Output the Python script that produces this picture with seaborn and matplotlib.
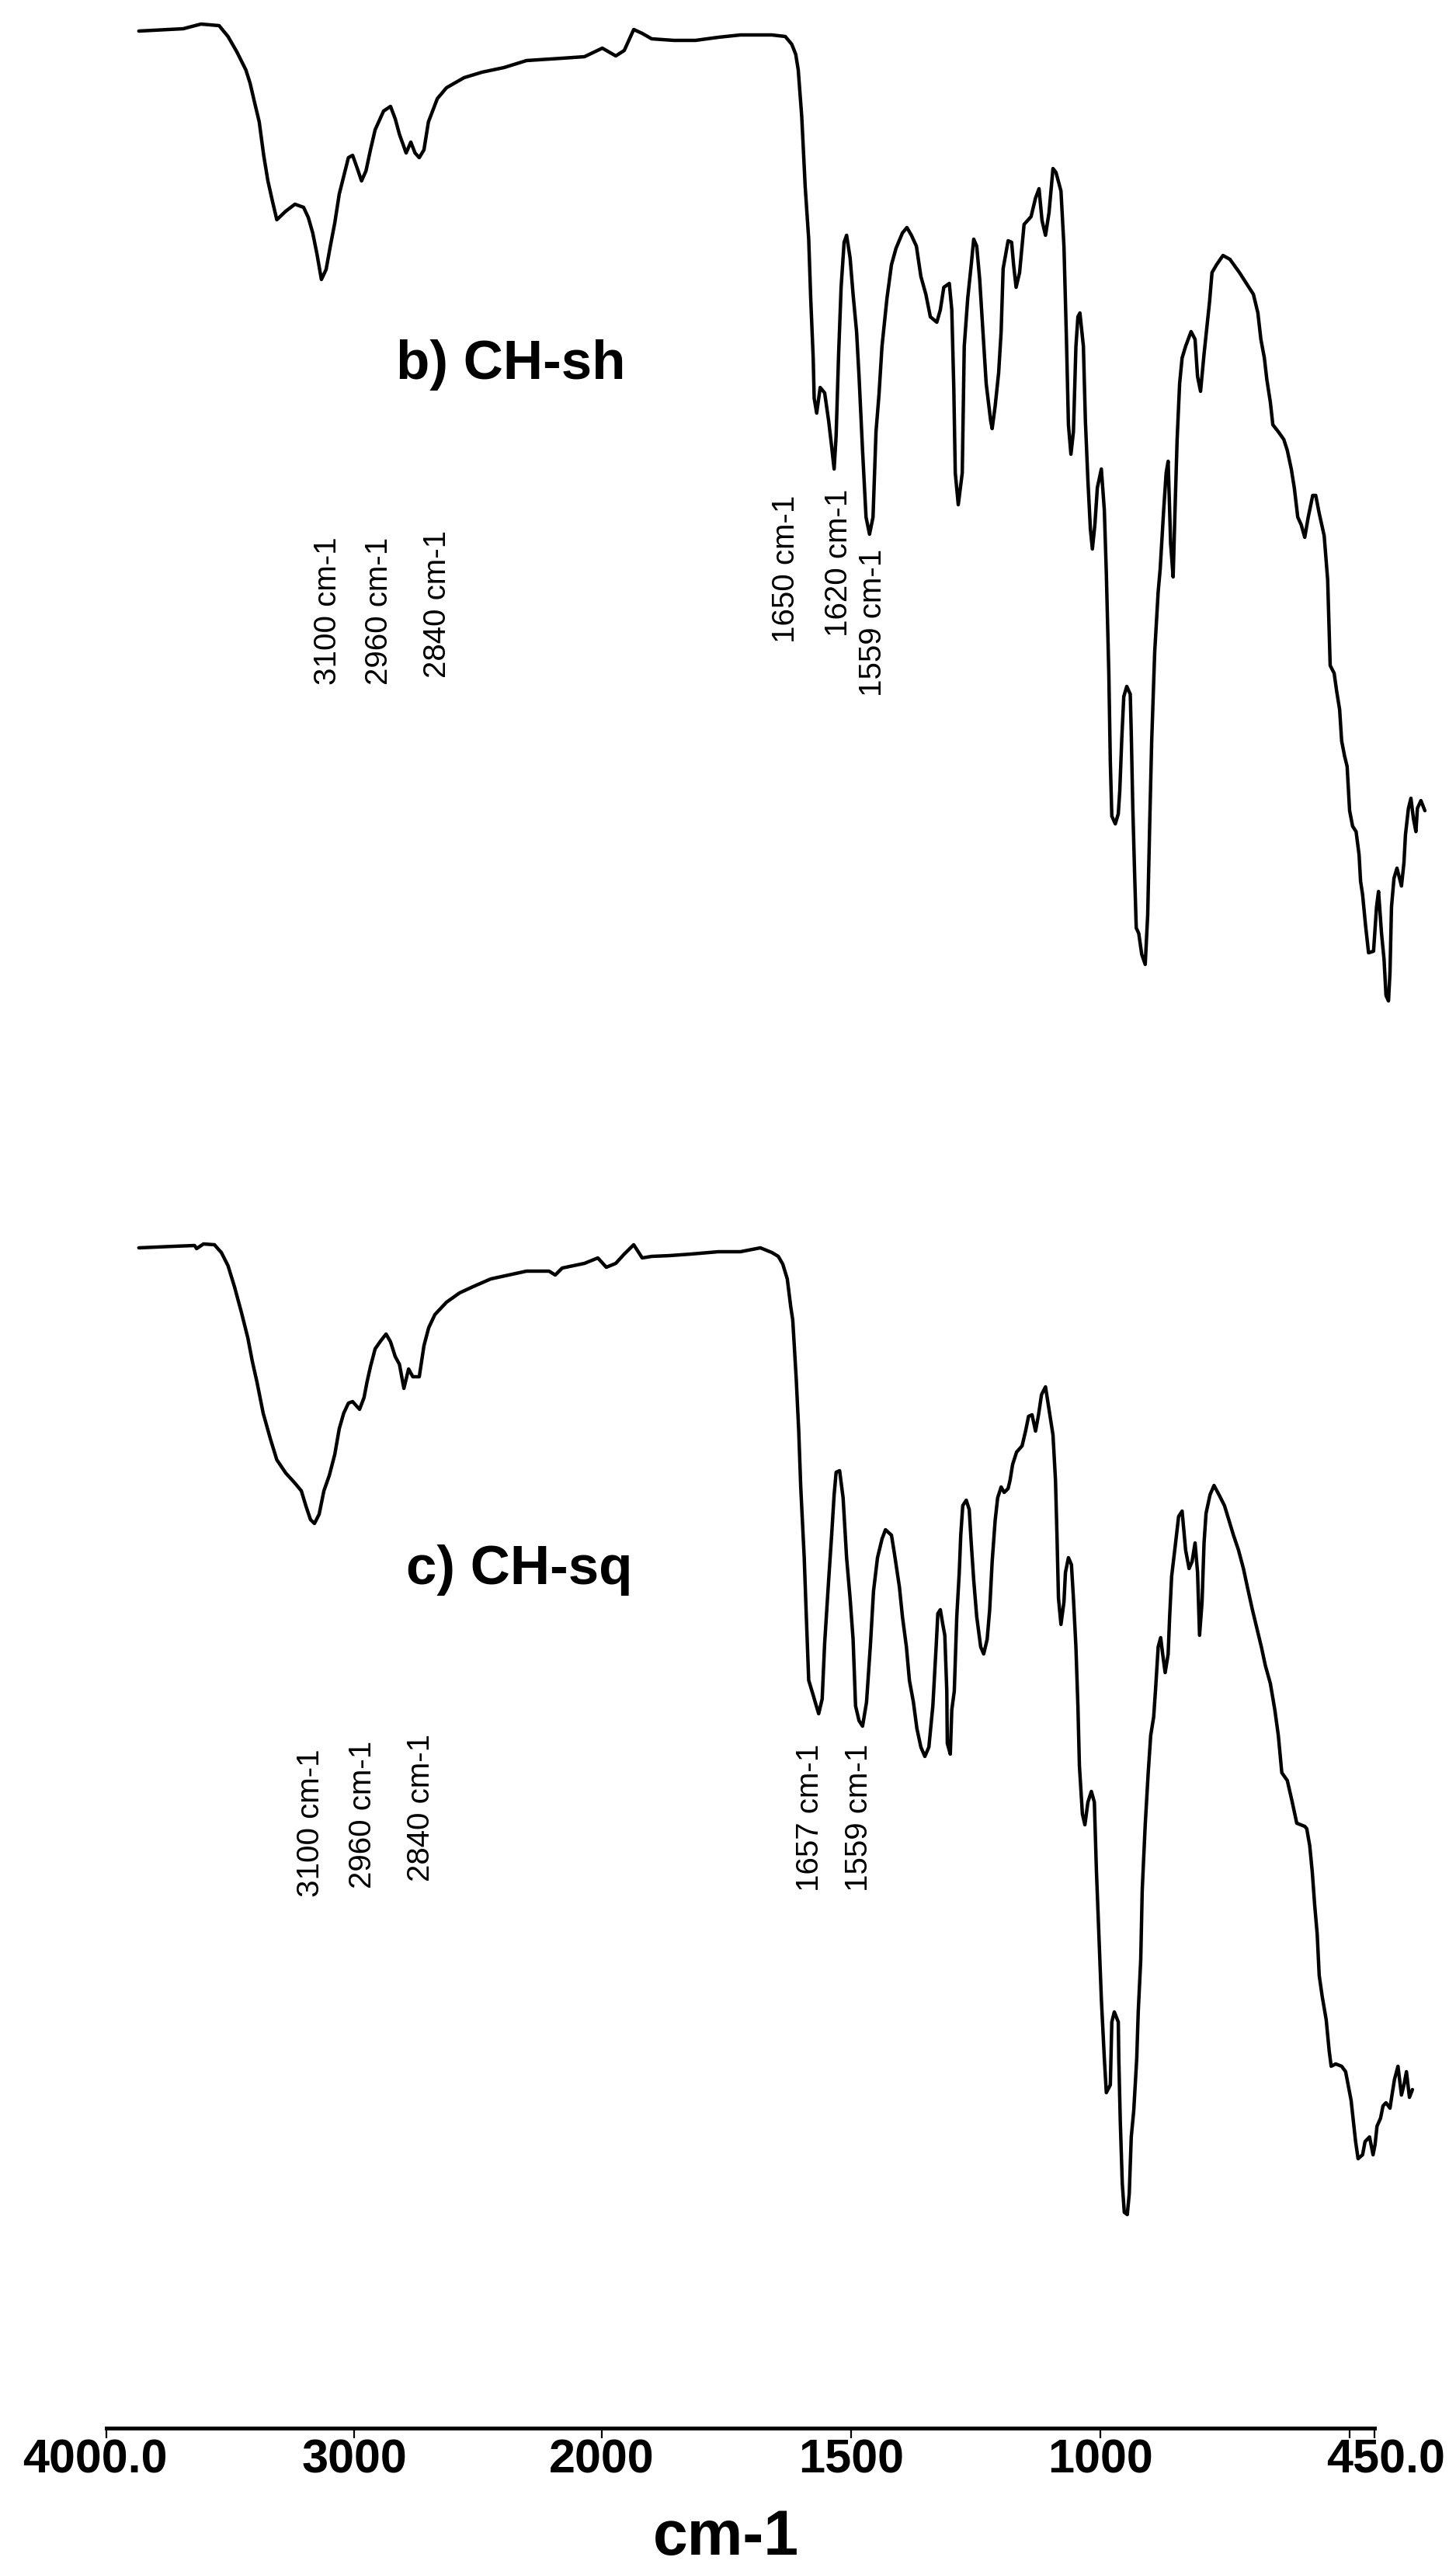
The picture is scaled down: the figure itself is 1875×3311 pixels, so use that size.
import numpy as np
import pandas as pd
import matplotlib
matplotlib.use("Agg")
import matplotlib.pyplot as plt
import matplotlib.transforms as mtransforms
import seaborn as sns

# ---------------- data ----------------
wn_b = [3869, 3690, 3618, 3582, 3545, 3509, 3473, 3437, 3420, 3401,
        3383, 3365, 3348, 3329, 3312, 3276, 3239, 3204, 3185, 3167,
        3150, 3132, 3113, 3096, 3078, 3060, 3042, 3023, 3006, 2987,
        2970, 2952, 2934, 2915, 2881, 2853, 2834, 2817, 2790, 2771,
        2754, 2737, 2718, 2700, 2664, 2627, 2556, 2484, 2395, 2304,
        2160, 2070, 1999, 1972, 1955, 1936, 1919, 1900, 1856, 1812,
        1766, 1722, 1659, 1632, 1619, 1611, 1606, 1599, 1592, 1585,
        1581, 1576, 1574, 1569, 1562, 1553, 1545, 1539, 1534, 1530,
        1525, 1520, 1514, 1509, 1502, 1496, 1489, 1484, 1477, 1470,
        1463, 1456, 1450, 1444, 1438, 1428, 1419, 1410, 1397, 1388,
        1379, 1369, 1360, 1350, 1341, 1328, 1321, 1314, 1303, 1298,
        1294, 1291, 1285, 1277, 1273, 1266, 1259, 1254, 1248, 1242,
        1236, 1229, 1220, 1217, 1211, 1204, 1199, 1195, 1185, 1178,
        1174, 1169, 1162, 1153, 1139, 1130, 1123, 1117, 1110, 1103,
        1095, 1089, 1079, 1073, 1068, 1064, 1059, 1054, 1049, 1045,
        1041, 1034, 1030, 1025, 1020, 1016, 1011, 1006, 998, 992,
        988, 983, 980, 977, 970, 964, 961, 957, 953, 947,
        940, 938, 935, 931, 928, 923, 917, 910, 905, 901,
        897, 891, 884, 880, 873, 868, 864, 859, 854, 850,
        846, 841, 836, 829, 818, 810, 805, 799, 792, 785,
        781, 776, 767, 754, 740, 721, 707, 693, 684, 678,
        671, 666, 659, 654, 643, 632, 625, 617, 611, 604,
        597, 590, 583, 574, 568, 561, 551, 544, 539, 531,
        526, 520, 516, 510, 505, 500, 494, 487, 481, 478,
        474, 468, 462, 452, 446, 442, 436, 431, 427, 422,
        419, 416, 411, 405, 396, 391, 388, 382, 377, 372,
        367, 364, 357, 349]
t_b = [308.7, 309.0, 309.6, 309.5, 309.4, 308.0, 306.0, 303.7, 302.0, 299.4,
       297.0, 292.7, 289.4, 286.7, 284.4, 285.5, 286.4, 286.0, 284.7, 282.7,
       280.0, 276.7, 278.0, 281.0, 284.0, 287.7, 290.0, 292.4, 292.7, 291.0,
       289.4, 290.7, 293.4, 296.0, 298.4, 299.0, 297.4, 295.4, 293.0, 294.4,
       293.0, 292.4, 293.4, 297.0, 300.0, 301.4, 302.7, 303.4, 304.0, 304.9,
       305.2, 305.4, 306.5, 305.5, 306.2, 308.9, 308.4, 307.7, 307.5, 307.5,
       307.9, 308.2, 308.2, 308.0, 307.0, 305.7, 303.7, 297.7, 288.6, 281.9,
       274.3, 266.6, 261.4, 259.5, 262.8, 262.1, 258.5, 255.2, 252.3, 256.6,
       267.1, 275.7, 281.5, 282.4, 279.5, 274.8, 270.0, 264.2, 254.7, 246.1,
       243.9, 246.1, 257.1, 261.9, 268.1, 274.3, 278.6, 280.7, 282.7, 283.4,
       282.4, 281.0, 277.1, 274.8, 271.9, 271.2, 272.8, 275.7, 276.2, 272.8,
       262.8, 251.8, 247.7, 251.8, 268.1, 274.3, 278.6, 281.9, 281.0, 276.7,
       270.5, 263.3, 258.5, 257.5, 260.4, 264.7, 270.0, 278.1, 281.7, 281.5,
       278.6, 275.7, 277.6, 283.8, 284.8, 287.2, 288.4, 284.3, 282.4, 285.3,
       291.0, 290.5, 288.1, 281.0, 269.0, 258.0, 254.2, 257.1, 268.1, 271.9,
       272.4, 268.1, 258.5, 250.9, 244.6, 242.0, 245.1, 249.9, 252.3, 247.0,
       238.9, 226.0, 214.6, 207.6, 206.6, 207.9, 210.9, 217.6, 223.0, 224.3,
       223.3, 218.3, 208.9, 199.6, 193.2, 192.5, 189.8, 188.5, 194.9, 206.6,
       217.3, 228.7, 236.5, 239.4, 247.0, 251.8, 253.3, 242.7, 238.4, 247.5,
       256.1, 263.3, 266.6, 268.1, 270.0, 269.0, 264.2, 262.3, 267.1, 271.4,
       273.8, 277.6, 278.6, 279.8, 279.3, 277.6, 276.2, 274.8, 272.4, 269.0,
       266.6, 263.8, 260.9, 258.0, 257.1, 256.1, 254.7, 252.3, 249.9, 246.1,
       245.1, 243.5, 246.1, 248.9, 248.9, 246.6, 243.7, 238.0, 227.0, 226.0,
       223.7, 221.3, 217.3, 215.3, 214.0, 208.3, 206.3, 205.6, 202.6, 199.2,
       197.5, 193.5, 190.0, 190.2, 195.9, 197.9, 192.5, 189.2, 184.5, 183.8,
       187.5, 195.9, 199.6, 200.9, 198.6, 201.6, 205.2, 208.6, 209.9, 207.3,
       205.6, 208.6, 209.6, 208.3]

wn_c = [3869, 3725, 3644, 3636, 3608, 3564, 3536, 3509, 3483, 3455,
        3429, 3411, 3392, 3367, 3338, 3312, 3276, 3239, 3213, 3194,
        3176, 3160, 3141, 3122, 3100, 3078, 3060, 3042, 3023, 3006,
        2978, 2960, 2948, 2934, 2915, 2893, 2871, 2853, 2834, 2817,
        2799, 2780, 2763, 2737, 2718, 2699, 2674, 2627, 2574, 2520,
        2448, 2376, 2304, 2213, 2188, 2160, 2070, 2016, 1991, 1972,
        1955, 1936, 1919, 1900, 1864, 1821, 1766, 1722, 1682, 1659,
        1646, 1637, 1628, 1621, 1617, 1610, 1605, 1601, 1594, 1590,
        1585, 1576, 1572, 1565, 1558, 1553, 1545, 1539, 1534, 1530,
        1523, 1516, 1509, 1502, 1496, 1491, 1484, 1477, 1469, 1461,
        1455, 1447, 1438, 1431, 1419, 1413, 1403, 1397, 1389, 1383,
        1375, 1368, 1360, 1352, 1344, 1336, 1329, 1326, 1321, 1316,
        1312, 1308, 1307, 1301, 1298, 1293, 1288, 1283, 1280, 1276,
        1269, 1263, 1259, 1254, 1248, 1240, 1234, 1227, 1222, 1217,
        1211, 1206, 1199, 1193, 1185, 1181, 1176, 1168, 1157, 1150,
        1144, 1137, 1130, 1124, 1118, 1110, 1103, 1095, 1090, 1087,
        1084, 1079, 1073, 1070, 1064, 1058, 1054, 1049, 1045, 1042,
        1036, 1031, 1025, 1018, 1012, 1008, 1003, 998, 992, 988,
        980, 977, 972, 964, 963, 960, 956, 952, 946, 942,
        938, 933, 927, 924, 919, 916, 910, 904, 899, 893,
        889, 884, 879, 875, 870, 864, 861, 857, 850, 843,
        836, 829, 822, 816, 810, 805, 801, 796, 792, 788,
        780, 772, 762, 751, 742, 733, 723, 713, 705, 695,
        686, 677, 669, 659, 650, 643, 636, 625, 615, 606,
        590, 586, 580, 575, 570, 565, 561, 555, 547, 541,
        537, 528, 516, 508, 502, 497, 492, 488, 483, 474,
        469, 460, 453, 449, 445, 438, 433, 427, 419, 415,
        410, 403, 396, 391, 386, 380, 374]
t_c = [152.0, 152.2, 152.3, 151.9, 152.5, 152.4, 151.4, 149.7, 147.0, 143.7,
       140.4, 137.4, 134.7, 130.7, 127.4, 124.7, 123.0, 121.7, 120.7, 118.7,
       117.0, 116.5, 117.7, 120.7, 122.7, 125.4, 128.7, 130.7, 132.0, 132.2,
       131.2, 132.7, 134.7, 136.7, 139.0, 140.0, 140.9, 139.9, 138.0, 137.0,
       133.9, 136.4, 135.4, 135.4, 139.4, 141.7, 143.4, 145.0, 146.2, 147.0,
       148.0, 148.5, 149.0, 149.0, 148.5, 149.4, 150.0, 150.7, 149.5, 150.0,
       151.2, 152.4, 150.7, 150.9, 151.0, 151.2, 151.5, 151.5, 152.0, 151.4,
       150.9, 149.9, 148.0, 144.4, 142.7, 135.1, 128.4, 121.2, 112.1, 104.9,
       96.3, 94.4, 93.5, 92.0, 93.9, 101.1, 109.2, 115.0, 120.2, 123.1,
       123.3, 119.8, 112.1, 106.9, 101.6, 93.0, 91.1, 90.4, 93.5, 101.1,
       107.8, 112.1, 114.5, 115.7, 115.0, 112.6, 108.3, 104.5, 100.6, 96.3,
       93.5, 90.1, 87.7, 86.5, 87.7, 93.0, 101.1, 104.9, 105.4, 103.5,
       102.1, 94.9, 88.2, 86.8, 92.5, 94.9, 104.5, 110.2, 115.0, 118.8,
       119.5, 118.3, 114.0, 109.2, 104.5, 100.6, 99.7, 101.6, 105.4, 111.6,
       116.9, 119.8, 121.2, 120.5, 121.0, 122.1, 124.1, 125.7, 126.5, 128.4,
       130.3, 130.5, 128.4, 130.5, 133.1, 134.1, 131.2, 127.9, 122.1, 115.0,
       106.9, 103.5, 106.4, 110.2, 112.1, 111.2, 106.9, 100.6, 93.0, 85.3,
       79.1, 77.7, 80.6, 82.0, 80.6, 72.0, 63.6, 55.3, 47.6, 43.2,
       44.2, 52.3, 53.6, 52.3, 47.6, 39.5, 31.5, 27.8, 27.5, 30.2,
       37.5, 40.9, 47.6, 53.6, 60.3, 69.3, 77.7, 84.4, 89.2, 91.6,
       95.4, 100.6, 101.8, 99.7, 97.3, 99.7, 104.5, 109.7, 113.5, 117.4,
       118.1, 113.1, 110.7, 111.6, 114.0, 110.2, 102.1, 106.4, 114.0, 117.8,
       120.2, 121.4, 120.2, 118.8, 116.9, 115.0, 113.1, 110.7, 108.3, 105.4,
       103.0, 100.6, 98.2, 95.9, 92.5, 89.2, 84.4, 83.4, 80.6, 77.9,
       77.5, 77.2, 75.0, 71.7, 67.3, 63.6, 58.3, 55.6, 52.6, 48.6,
       46.6, 46.9, 46.6, 45.9, 43.9, 42.2, 39.2, 36.9, 34.7, 35.2,
       36.9, 37.5, 35.2, 36.5, 38.9, 39.9, 41.5, 41.9, 41.2, 42.9,
       44.9, 46.6, 42.9, 44.2, 45.9, 42.6, 43.6]

tick_values = [4000, 3000, 2000, 1500, 1000, 500, 450]
tick_labels = ["4000.0", "3000", "2000", "1500", "1000", "", "450.0"]

titles = ["b) CH-sh", "c) CH-sq"]
peak_labels_b = ["3100 cm-1", "2960 cm-1", "2840 cm-1", "1650 cm-1", "1620 cm-1", "1559 cm-1"]
peak_labels_c = ["3100 cm-1", "2960 cm-1", "2840 cm-1", "1657 cm-1", "1559 cm-1"]
x_label = "cm-1"

# ---------------- style ----------------
sns.set_theme(style="white")
plt.rcParams["font.family"] = ["Liberation Sans", "DejaVu Sans"]

W, H, DPI = 1875, 3311, 100
fig = plt.figure(figsize=(W / DPI, H / DPI), dpi=DPI, facecolor="white")

# axis line sits 3127 px from top
ax = fig.add_axes([0.0, (H - 3127) / H, 1.0, 3127 / H])
ax.set_facecolor("white")

# instrument-style scale change at 2000 cm-1 (right part expanded ~2x)
R = 0.642 / 0.319


def fwd(w):
    w = np.asarray(w, dtype=float)
    return np.where(w >= 2000, w, 2000 - (2000 - w) * R)


def inv(u):
    u = np.asarray(u, dtype=float)
    return np.where(u >= 2000, u, 2000 - (2000 - u) / R)


ax.set_xscale("function", functions=(fwd, inv))

df_b = pd.DataFrame({"wavenumber": wn_b, "T": t_b})
df_c = pd.DataFrame({"wavenumber": wn_c, "T": t_c})
for d in (df_b, df_c):
    sns.lineplot(data=d, x="wavenumber", y="T", ax=ax, color="black",
                 linewidth=3.2, sort=False, estimator=None)

ax.set_xlim(4429.5, 286.6)
ax.set_ylim(0, 312.7)

sns.despine(ax=ax, left=True, top=True, right=True)
ax.spines["bottom"].set_color("black")
ax.spines["bottom"].set_linewidth(3.6)
ax.spines["bottom"].set_bounds(4000, 450)

ax.set_yticks([])
ax.set_ylabel("")
ax.xaxis.set_minor_locator(matplotlib.ticker.NullLocator())
ax.set_xticks(tick_values)
ax.set_xticklabels(tick_labels, fontsize=44, fontweight="bold")
ax.tick_params(axis="x", direction="out", length=9, width=1.6,
               color="black", pad=1, labelcolor="black", bottom=True)

# shift end labels like the reference
lbls = ax.get_xticklabels()
lbls[0].set_transform(lbls[0].get_transform() +
                      mtransforms.ScaledTranslation(-15 / DPI, 0, fig.dpi_scale_trans))
lbls[-1].set_transform(lbls[-1].get_transform() +
                       mtransforms.ScaledTranslation(14 / DPI, 0, fig.dpi_scale_trans))

ax.set_xlabel(x_label, fontsize=58, fontweight="bold", color="black")
ax.xaxis.set_label_coords(935 / W, -(3290 - 3127) / 3127)
ax.xaxis.label.set_va("baseline")


def px(x, y):
    return x / W, 1 - y / H


# sample titles
fig.text(*px(510, 488), titles[0], fontsize=51, fontweight="bold",
         ha="left", va="baseline", color="black")
fig.text(*px(523, 2040), titles[1], fontsize=51, fontweight="bold",
         ha="left", va="baseline", color="black")

# rotated peak labels (centre x, bottom y in pixels)
pos_b = [(422, 882), (488, 882), (563, 873), (1012, 828), (1080, 820), (1124, 897)]
pos_c = [(400, 2443), (467, 2432), (542, 2423), (1043, 2436), (1106, 2436)]
for lab, (x, y) in zip(peak_labels_b, pos_b):
    fig.text(*px(x, y), lab, rotation=90, fontsize=29, ha="center",
             va="bottom", color="black")
for lab, (x, y) in zip(peak_labels_c, pos_c):
    fig.text(*px(x, y), lab, rotation=90, fontsize=29, ha="center",
             va="bottom", color="black")

fig.savefig("out.png", dpi=DPI, facecolor="white")
